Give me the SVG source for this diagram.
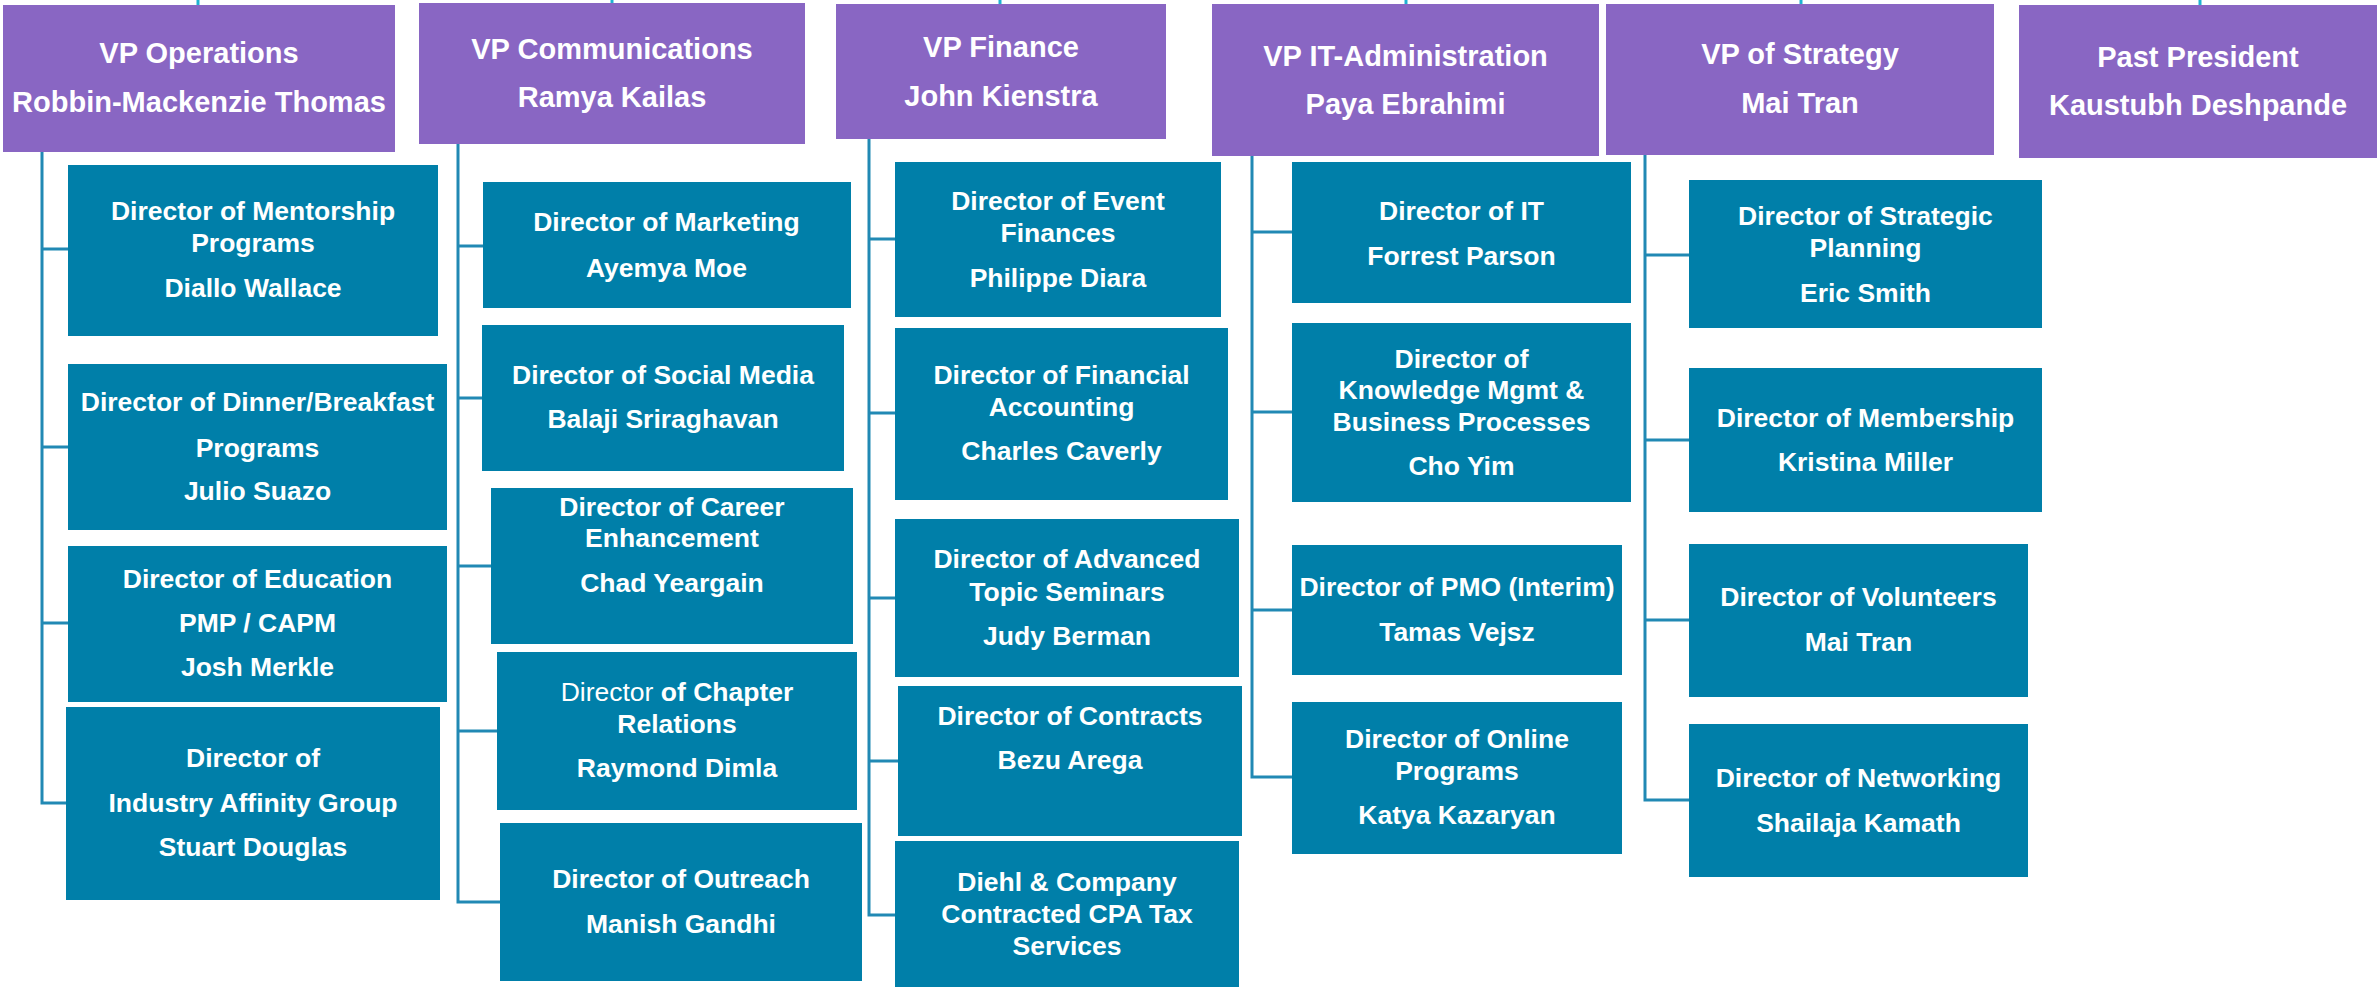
<svg xmlns="http://www.w3.org/2000/svg" width="2379" height="987" viewBox="0 0 2379 987">
<style>
.vp{fill:#8966C3}
.dr{fill:#007FA9}
.t{font-family:"Liberation Sans",Arial,sans-serif;font-weight:bold;fill:#fff;text-anchor:middle}
.tv{font-size:29px}
.td{font-size:26.5px}
.n{font-weight:normal}
.ln{fill:none;stroke:#2189B4;stroke-width:3}
.stub{stroke:#1EB3D2;stroke-width:3}
</style>
<rect width="2379" height="987" fill="#fff"/>
<g id="connectors">
<line class="stub" x1="198" y1="0" x2="198" y2="6"/>
<line class="stub" x1="612" y1="0" x2="612" y2="4"/>
<line class="stub" x1="1000" y1="0" x2="1000" y2="5"/>
<line class="stub" x1="1406" y1="0" x2="1406" y2="5"/>
<line class="stub" x1="1801" y1="0" x2="1801" y2="5"/>
<line class="stub" x1="2200" y1="0" x2="2200" y2="6"/>
<path class="ln" d="M42 152V803H66M42 249H68M42 447H68M42 623H68"/>
<path class="ln" d="M458 144V902H500M458 246H483M458 398H482M458 566H491M458 731H497"/>
<path class="ln" d="M869 139V915H895M869 239H895M869 413H895M869 598H895M869 761H898"/>
<path class="ln" d="M1252 156V777H1292M1252 232H1292M1252 412H1292M1252 610H1292"/>
<path class="ln" d="M1645 155V800H1689M1645 255H1689M1645 440H1689M1645 620H1689"/>
</g>
<g id="vp-operations"><rect class="vp" x="3" y="5" width="392" height="147"/>
<text class="t tv" x="199" y="63">VP Operations</text><text class="t tv" x="199" y="112">Robbin-Mackenzie Thomas</text></g>
<g id="vp-communications"><rect class="vp" x="419" y="3" width="386" height="141"/>
<text class="t tv" x="612" y="59">VP Communications</text><text class="t tv" x="612" y="107">Ramya Kailas</text></g>
<g id="vp-finance"><rect class="vp" x="836" y="4" width="330" height="135"/>
<text class="t tv" x="1001" y="57">VP Finance</text><text class="t tv" x="1001" y="106">John Kienstra</text></g>
<g id="vp-it"><rect class="vp" x="1212" y="4" width="387" height="152"/>
<text class="t tv" x="1405.5" y="66">VP IT-Administration</text><text class="t tv" x="1405.5" y="114">Paya Ebrahimi</text></g>
<g id="vp-strategy"><rect class="vp" x="1606" y="4" width="388" height="151"/>
<text class="t tv" x="1800" y="64">VP of Strategy</text><text class="t tv" x="1800" y="113">Mai Tran</text></g>
<g id="past-president"><rect class="vp" x="2019" y="5" width="358" height="153"/>
<text class="t tv" x="2198" y="67">Past President</text><text class="t tv" x="2198" y="115">Kaustubh Deshpande</text></g>

<g id="dir-mentorship"><rect class="dr" x="68" y="165" width="370" height="171"/>
<text class="t td" x="253" y="220">Director of Mentorship</text><text class="t td" x="253" y="252">Programs</text><text class="t td" x="253" y="297">Diallo Wallace</text></g>
<g id="dir-dinner"><rect class="dr" x="68" y="364" width="379" height="166"/>
<text class="t td" x="257.5" y="411">Director of Dinner/Breakfast</text><text class="t td" x="257.5" y="457">Programs</text><text class="t td" x="257.5" y="500">Julio Suazo</text></g>
<g id="dir-education"><rect class="dr" x="68" y="546" width="379" height="156"/>
<text class="t td" x="257.5" y="588">Director of Education</text><text class="t td" x="257.5" y="632">PMP / CAPM</text><text class="t td" x="257.5" y="676">Josh Merkle</text></g>
<g id="dir-industry"><rect class="dr" x="66" y="707" width="374" height="193"/>
<text class="t td" x="253" y="767">Director of</text><text class="t td" x="253" y="812">Industry Affinity Group</text><text class="t td" x="253" y="856">Stuart Douglas</text></g>

<g id="dir-marketing"><rect class="dr" x="483" y="182" width="368" height="126"/>
<text class="t td" x="666.5" y="231">Director of Marketing</text><text class="t td" x="666.5" y="277">Ayemya Moe</text></g>
<g id="dir-social"><rect class="dr" x="482" y="325" width="362" height="146"/>
<text class="t td" x="663" y="384">Director of Social Media</text><text class="t td" x="663" y="428">Balaji Sriraghavan</text></g>
<g id="dir-career"><rect class="dr" x="491" y="488" width="362" height="156"/>
<text class="t td" x="672" y="516">Director of Career</text><text class="t td" x="672" y="547">Enhancement</text><text class="t td" x="672" y="592">Chad Yeargain</text></g>
<g id="dir-chapter"><rect class="dr" x="497" y="652" width="360" height="158"/>
<text class="t td" x="677" y="701"><tspan class="n">Director</tspan> of Chapter</text><text class="t td" x="677" y="733">Relations</text><text class="t td" x="677" y="777">Raymond Dimla</text></g>
<g id="dir-outreach"><rect class="dr" x="500" y="823" width="362" height="158"/>
<text class="t td" x="681" y="888">Director of Outreach</text><text class="t td" x="681" y="933">Manish Gandhi</text></g>

<g id="dir-event-finances"><rect class="dr" x="895" y="162" width="326" height="155"/>
<text class="t td" x="1058" y="210">Director of Event</text><text class="t td" x="1058" y="242">Finances</text><text class="t td" x="1058" y="287">Philippe Diara</text></g>
<g id="dir-financial-accounting"><rect class="dr" x="895" y="328" width="333" height="172"/>
<text class="t td" x="1061.5" y="384">Director of Financial</text><text class="t td" x="1061.5" y="416">Accounting</text><text class="t td" x="1061.5" y="460">Charles Caverly</text></g>
<g id="dir-advanced"><rect class="dr" x="895" y="519" width="344" height="158"/>
<text class="t td" x="1067" y="568">Director of Advanced</text><text class="t td" x="1067" y="601">Topic Seminars</text><text class="t td" x="1067" y="645">Judy Berman</text></g>
<g id="dir-contracts"><rect class="dr" x="898" y="686" width="344" height="150"/>
<text class="t td" x="1070" y="725">Director of Contracts</text><text class="t td" x="1070" y="769">Bezu Arega</text></g>
<g id="diehl"><rect class="dr" x="895" y="841" width="344" height="146"/>
<text class="t td" x="1067" y="891">Diehl &amp; Company</text><text class="t td" x="1067" y="923">Contracted CPA Tax</text><text class="t td" x="1067" y="955">Services</text></g>

<g id="dir-it"><rect class="dr" x="1292" y="162" width="339" height="141"/>
<text class="t td" x="1461.5" y="220">Director of IT</text><text class="t td" x="1461.5" y="265">Forrest Parson</text></g>
<g id="dir-knowledge"><rect class="dr" x="1292" y="323" width="339" height="179"/>
<text class="t td" x="1461.5" y="368">Director of</text><text class="t td" x="1461.5" y="399">Knowledge Mgmt &amp;</text><text class="t td" x="1461.5" y="431">Business Processes</text><text class="t td" x="1461.5" y="475">Cho Yim</text></g>
<g id="dir-pmo"><rect class="dr" x="1292" y="545" width="330" height="130"/>
<text class="t td" x="1457" y="596">Director of PMO (Interim)</text><text class="t td" x="1457" y="641">Tamas Vejsz</text></g>
<g id="dir-online"><rect class="dr" x="1292" y="702" width="330" height="152"/>
<text class="t td" x="1457" y="748">Director of Online</text><text class="t td" x="1457" y="780">Programs</text><text class="t td" x="1457" y="824">Katya Kazaryan</text></g>

<g id="dir-strategic-planning"><rect class="dr" x="1689" y="180" width="353" height="148"/>
<text class="t td" x="1865.5" y="225">Director of Strategic</text><text class="t td" x="1865.5" y="257">Planning</text><text class="t td" x="1865.5" y="302">Eric Smith</text></g>
<g id="dir-membership"><rect class="dr" x="1689" y="368" width="353" height="144"/>
<text class="t td" x="1865.5" y="427">Director of Membership</text><text class="t td" x="1865.5" y="471">Kristina Miller</text></g>
<g id="dir-volunteers"><rect class="dr" x="1689" y="544" width="339" height="153"/>
<text class="t td" x="1858.5" y="606">Director of Volunteers</text><text class="t td" x="1858.5" y="651">Mai Tran</text></g>
<g id="dir-networking"><rect class="dr" x="1689" y="724" width="339" height="153"/>
<text class="t td" x="1858.5" y="787">Director of Networking</text><text class="t td" x="1858.5" y="832">Shailaja Kamath</text></g>
</svg>
